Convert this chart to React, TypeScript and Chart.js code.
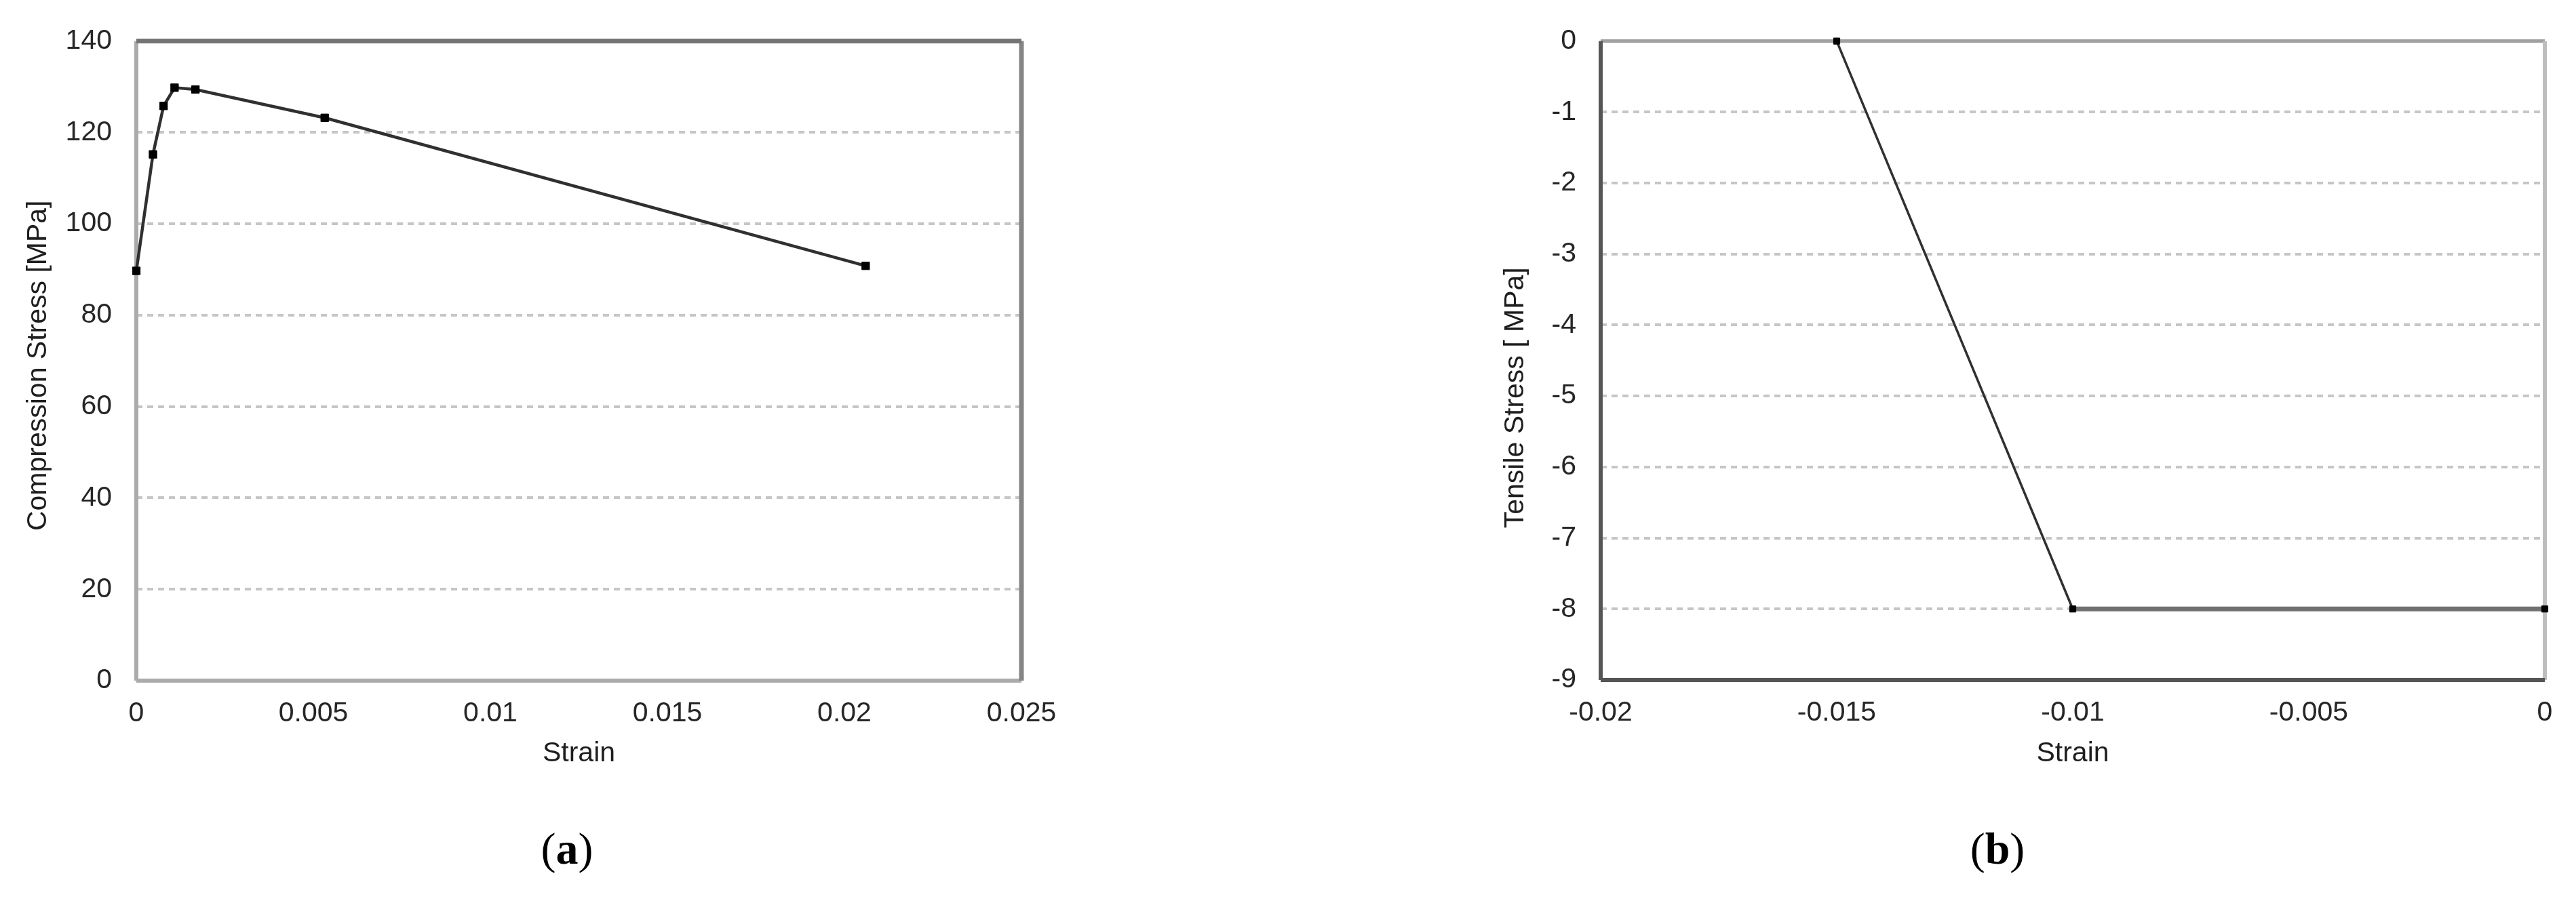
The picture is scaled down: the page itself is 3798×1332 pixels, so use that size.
import React, { useEffect, useRef } from 'react';
import { Chart, registerables } from 'chart.js';

Chart.register(...registerables);

// ---------- data ----------
const strainA = [0, 0.00047, 0.00077, 0.00108, 0.00167, 0.00532, 0.0206];
const stressA = [89.7, 115.2, 125.8, 129.8, 129.4, 123.2, 90.8];
const xTicksA = [0, 0.005, 0.01, 0.015, 0.02, 0.025];
const xTickLabelsA = ['0', '0.005', '0.01', '0.015', '0.02', '0.025'];
const yTicksA = [0, 20, 40, 60, 80, 100, 120, 140];
const yTickLabelsA = ['0', '20', '40', '60', '80', '100', '120', '140'];

const strainB = [-0.015, -0.01, 0];
const stressB = [0, -8, -8];
const xTicksB = [-0.02, -0.015, -0.01, -0.005, 0];
const xTickLabelsB = ['-0.02', '-0.015', '-0.01', '-0.005', '0'];
const yTicksB = [-9, -8, -7, -6, -5, -4, -3, -2, -1, 0];
const yTickLabelsB = ['-9', '-8', '-7', '-6', '-5', '-4', '-3', '-2', '-1', '0'];

const FONT = "'Liberation Sans', Arial, Helvetica, sans-serif";

// ---------- plugins ----------
const framePlugin = {
  id: 'frame',
  beforeDatasetsDraw(chart: any, _args: any, opts: any) {
    const { ctx, chartArea } = chart;
    const { left, right, top, bottom } = chartArea;
    ctx.save();
    for (const side of opts.order as string[]) {
      const [color, w] = opts[side];
      ctx.beginPath();
      ctx.strokeStyle = color;
      ctx.lineWidth = w;
      if (side === 'top') { ctx.moveTo(left, top); ctx.lineTo(right, top); }
      if (side === 'bottom') { ctx.moveTo(left, bottom); ctx.lineTo(right, bottom); }
      if (side === 'left') { ctx.moveTo(left, top); ctx.lineTo(left, bottom); }
      if (side === 'right') { ctx.moveTo(right, top); ctx.lineTo(right, bottom); }
      ctx.stroke();
    }
    ctx.restore();
  },
};

const yTitlePlugin = {
  id: 'yTitle',
  afterDraw(chart: any, _args: any, opts: any) {
    const { ctx, chartArea } = chart;
    ctx.save();
    ctx.translate(chartArea.left + opts.dx, (chartArea.top + chartArea.bottom) / 2 + opts.dy);
    ctx.rotate(-Math.PI / 2);
    ctx.font = `41px ${FONT}`;
    ctx.fillStyle = '#1e1e1e';
    ctx.textAlign = 'center';
    ctx.textBaseline = 'middle';
    ctx.fillText(opts.text, 0, 0);
    ctx.restore();
  },
};

function fixedTicks(values: number[]) {
  return (scale: any) => {
    scale.ticks = values.map((v) => ({ value: v }));
  };
}

function labelFor(values: number[], labels: string[]) {
  return (value: any) => {
    const i = values.findIndex((v) => Math.abs(v - Number(value)) < 1e-9);
    return i >= 0 ? labels[i] : '';
  };
}

const tickFont = { family: FONT, size: 41 };
const tickColor = '#262626';

function buildConfig(p: any) {
  return {
    type: 'line',
    data: {
      datasets: [
        {
          data: p.xs.map((x: number, i: number) => ({ x, y: p.ys[i] })),
          borderColor: '#303030',
          borderWidth: p.lineWidth,
          segment: p.segment,
          pointRadius: p.pointRadius,
          pointStyle: 'rect',
          pointBackgroundColor: '#000',
          pointBorderColor: '#000',
          pointBorderWidth: 1,
          tension: 0,
          fill: false,
          clip: false,
        },
      ],
    },
    options: {
      responsive: false,
      maintainAspectRatio: false,
      animation: false,
      devicePixelRatio: 1,
      layout: { padding: p.padding },
      plugins: {
        legend: { display: false },
        tooltip: { enabled: false },
        frame: p.frame,
        yTitle: p.yTitle,
      },
      scales: {
        x: {
          type: 'linear',
          min: p.xMin,
          max: p.xMax,
          afterBuildTicks: fixedTicks(p.xTicks),
          afterFit: (s: any) => { s.height = p.xAxisHeight; },
          grid: { display: false, drawTicks: false },
          border: { display: false },
          ticks: {
            padding: 24,
            font: tickFont,
            color: tickColor,
            maxRotation: 0,
            autoSkip: false,
            callback: labelFor(p.xTicks, p.xLabels),
          },
          title: {
            display: true,
            text: 'Strain',
            font: { family: FONT, size: 41 },
            color: '#1e1e1e',
            padding: 0,
          },
        },
        y: {
          type: 'linear',
          min: p.yMin,
          max: p.yMax,
          afterBuildTicks: fixedTicks(p.yTicks),
          afterFit: (s: any) => { s.width = p.yAxisWidth; },
          grid: { color: '#c6c6c6', lineWidth: 4, drawTicks: false },
          border: { display: false, dash: [9, 7] },
          ticks: {
            padding: 36,
            font: tickFont,
            color: tickColor,
            autoSkip: false,
            callback: labelFor(p.yTicks, p.yLabels),
          },
        },
      },
    },
    plugins: [framePlugin, yTitlePlugin],
  };
}

function ChartCanvas({ config, left, width, height }: any) {
  const ref = useRef<HTMLCanvasElement | null>(null);
  useEffect(() => {
    if (!ref.current) return;
    const chart = new Chart(ref.current, config);
    return () => chart.destroy();
  }, []);
  return (
    <canvas
      ref={ref}
      width={width}
      height={height}
      style={{ position: 'absolute', left, top: 0, width, height }}
    />
  );
}

const configA = buildConfig({
  xs: strainA,
  ys: stressA,
  xMin: 0,
  xMax: 0.025,
  yMin: 0,
  yMax: 140,
  xTicks: xTicksA,
  xLabels: xTickLabelsA,
  yTicks: yTicksA,
  yLabels: yTickLabelsA,
  lineWidth: 4.5,
  pointRadius: 8,
  padding: { left: 0, top: 50, right: 244, bottom: 0 },
  xAxisHeight: 132,
  yAxisWidth: 201,
  frame: {
    order: ['left', 'bottom', 'right', 'top'],
    left: ['#ababab', 6],
    bottom: ['#ababab', 6],
    right: ['#858585', 7],
    top: ['#747474', 7],
  },
  yTitle: { text: 'Compression Stress [MPa]', dx: -144, dy: 7 },
});

const configB = buildConfig({
  xs: strainB,
  ys: stressB,
  xMin: -0.02,
  xMax: 0,
  yMin: -9,
  yMax: 0,
  xTicks: xTicksB,
  xLabels: xTickLabelsB,
  yTicks: yTicksB,
  yLabels: yTickLabelsB,
  lineWidth: 3.5,
  segment: {
    borderColor: (c: any) => (c.p0DataIndex === 1 ? '#707070' : '#303030'),
    borderWidth: (c: any) => (c.p0DataIndex === 1 ? 7 : 3.5),
  },
  pointRadius: 6.5,
  padding: { left: 0, top: 49, right: 46, bottom: 0 },
  xAxisHeight: 133,
  yAxisWidth: 460,
  frame: {
    order: ['top', 'right', 'bottom', 'left'],
    top: ['#a0a0a0', 5],
    right: ['#bdbdbd', 6],
    bottom: ['#555', 6],
    left: ['#555', 6],
  },
  yTitle: { text: 'Tensile Stress [ MPa]', dx: -125, dy: 55 },
});

const panelLabel: React.CSSProperties = {
  position: 'absolute',
  top: 1252,
  transform: 'translate(-50%, -50%)',
  fontFamily: "'Liberation Serif', 'Times New Roman', serif",
  fontSize: 66,
  lineHeight: '1',
  color: '#000',
  whiteSpace: 'nowrap',
};

export default function App() {
  return (
    <div
      style={{
        position: 'fixed',
        left: 0,
        top: 0,
        width: 3798,
        height: 1332,
        background: '#fff',
        overflow: 'hidden',
      }}
    >
      <ChartCanvas config={configA} left={0} width={1750} height={1136} />
      <ChartCanvas config={configB} left={1900} width={1898} height={1136} />
      <div style={{ ...panelLabel, left: 836 }}>
        (<b>a</b>)
      </div>
      <div style={{ ...panelLabel, left: 2945 }}>
        (<b>b</b>)
      </div>
    </div>
  );
}
